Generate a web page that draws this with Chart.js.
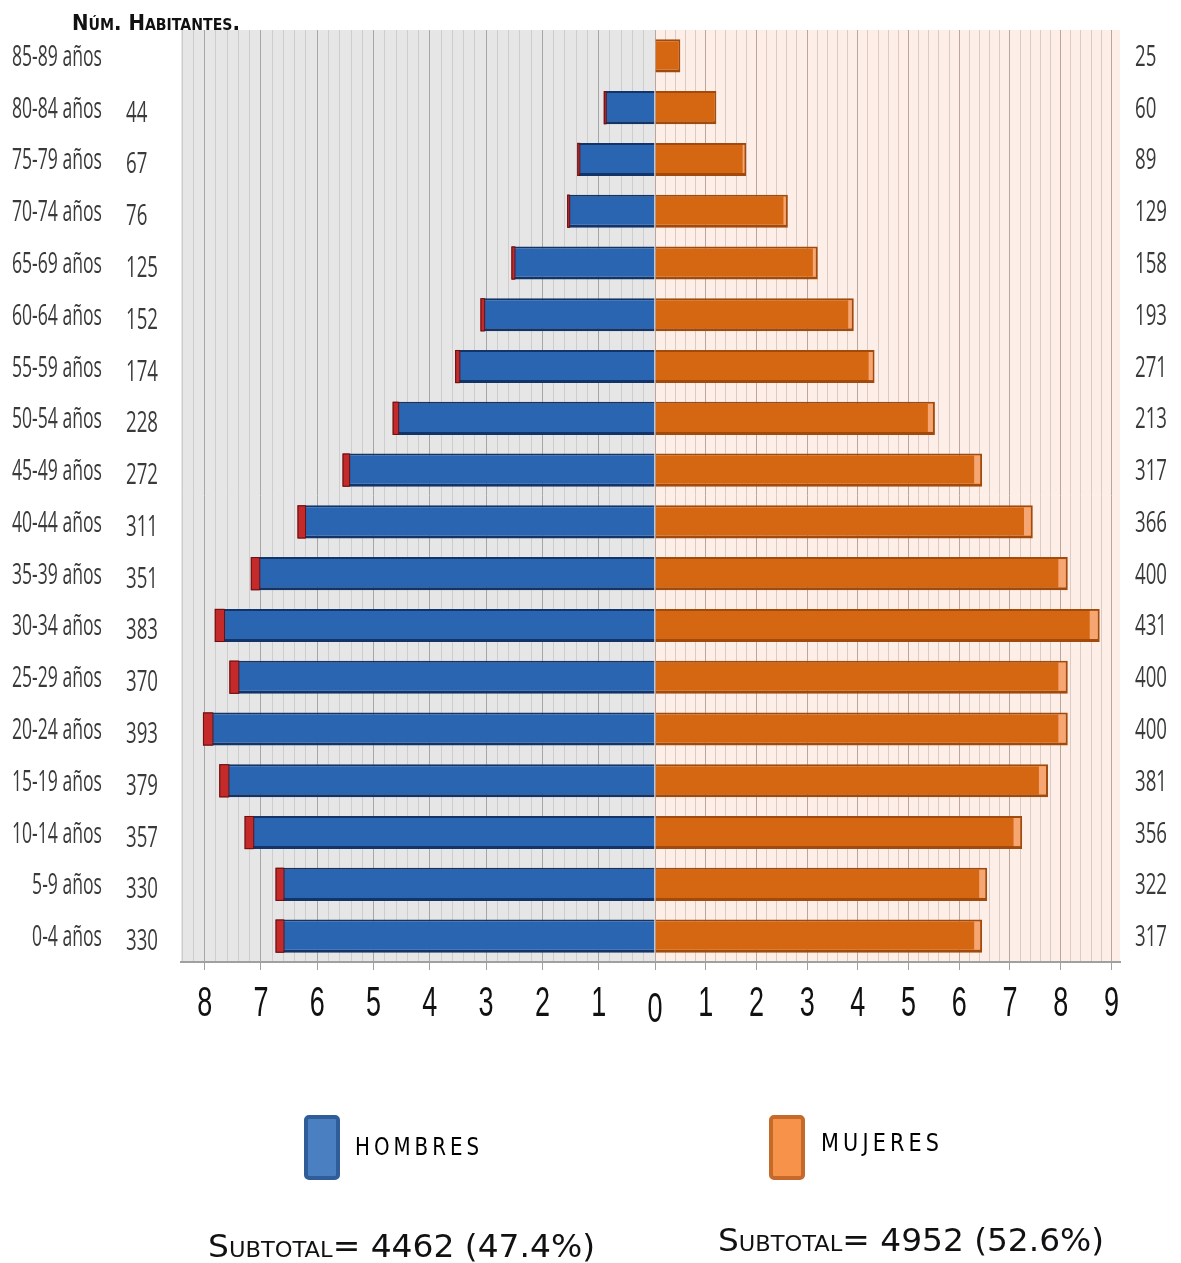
<!DOCTYPE html>
<html>
<head>
<meta charset="utf-8">
<script src="https://cdn.jsdelivr.net/npm/chart.js@4.4.0/dist/chart.umd.min.js"></script>
<style>
  html, body { margin: 0; padding: 0; background: #fff; }
  #wrap { position: relative; width: 1181px; height: 1263px; }
</style>
</head>
<body>
<div id="wrap"><canvas id="pyramid"></canvas></div>
<script>
// age groups, listed top to bottom as in the pyramid
const ageGroups = ['85-89 años', '80-84 años', '75-79 años', '70-74 años', '65-69 años', '60-64 años',
  '55-59 años', '50-54 años', '45-49 años', '40-44 años', '35-39 años', '30-34 años',
  '25-29 años', '20-24 años', '15-19 años', '10-14 años', '5-9 años', '0-4 años'];

// bar lengths (%)
const menPct = [null, 0.91, 1.38, 1.56, 2.55, 3.10, 3.55, 4.66, 5.55, 6.35, 7.18, 7.82, 7.56, 8.03, 7.74, 7.29, 6.74, 6.74];
const womenPct = [0.50, 1.21, 1.80, 2.62, 3.21, 3.92, 4.33, 5.52, 6.45, 7.45, 8.14, 8.77, 8.14, 8.14, 7.75, 7.24, 6.55, 6.45];

// inhabitants printed beside each row
const menCount = [null, 44, 67, 76, 125, 152, 174, 228, 272, 311, 351, 383, 370, 393, 379, 357, 330, 330];
const womenCount = [25, 60, 89, 129, 158, 193, 271, 213, 317, 366, 400, 431, 400, 400, 381, 356, 322, 317];

const seriesNames = ['HOMBRES', 'MUJERES'];
const subtotals = [4462, 4952];
const shares = [47.4, 52.6];
const axisTitle = 'Núm. Habitantes.';

const LEFT_MAX = 8.42;
const RIGHT_MAX = 9.17;

const LABEL_FONT = "29px 'Open Sans', 'Liberation Sans', sans-serif";
const TICK_FONT = "42px 'Liberation Sans', 'Open Sans', sans-serif";

function isWhole(v) { return Math.abs(v - Math.round(v)) < 1e-6; }

function textWidth(ctx, text, font) {
  ctx.save();
  ctx.font = font;
  const w = ctx.measureText(text).width;
  ctx.restore();
  return w;
}

// text drawn with a horizontal squeeze, like the condensed font of the original
function squeezeText(ctx, text, x, y, font, sx, align, color) {
  ctx.save();
  ctx.font = font;
  ctx.fillStyle = color;
  ctx.textAlign = align;
  ctx.textBaseline = 'alphabetic';
  ctx.translate(x, y);
  ctx.scale(sx, 1);
  ctx.fillText(text, 0, 0);
  ctx.restore();
}

// same, but squeezed to a given width (left aligned)
function fitText(ctx, text, x, y, font, width, color) {
  squeezeText(ctx, text, x, y, font, width / textWidth(ctx, text, font), 'left', color);
}

const halfBackgrounds = {
  id: 'halfBackgrounds',
  beforeDraw(chart) {
    const {ctx, chartArea} = chart;
    const zero = chart.scales.xR.getPixelForValue(0);
    ctx.save();
    ctx.fillStyle = '#e6e6e6';
    ctx.fillRect(chartArea.left, chartArea.top, zero - chartArea.left, chartArea.bottom - chartArea.top);
    ctx.fillStyle = '#fdeee8';
    ctx.fillRect(zero, chartArea.top, chartArea.right - zero, chartArea.bottom - chartArea.top);
    ctx.restore();
  }
};

// end caps of the bars (red for men, light orange for women)
const barCaps = {
  id: 'barCaps',
  afterDatasetsDraw(chart) {
    const ctx = chart.ctx;
    ctx.save();
    chart.getDatasetMeta(0).data.forEach((bar, i) => {
      if (menPct[i] == null) return;
      const p = bar.getProps(['x', 'y', 'base', 'height'], true);
      const w = Math.max(2, Math.abs(p.base - p.x) * 0.021);
      ctx.fillStyle = '#c42a2a';
      ctx.fillRect(p.x, p.y - p.height / 2, w, p.height);
      ctx.strokeStyle = '#6a1010';
      ctx.lineWidth = 1;
      ctx.strokeRect(p.x + 0.5, p.y - p.height / 2 + 0.5, w, p.height - 1);
    });
    chart.getDatasetMeta(1).data.forEach((bar, i) => {
      const p = bar.getProps(['x', 'y', 'base', 'height'], true);
      const w = Math.abs(p.base - p.x) * 0.018;
      if (w < 1.5) return;
      ctx.fillStyle = '#f6a672';
      ctx.fillRect(p.x - 2 - w, p.y - p.height / 2 + 2, w, p.height - 5);
    });
    ctx.restore();
  }
};

// condensed tick numbers under both halves of the axis
const axisNumbers = {
  id: 'axisNumbers',
  afterDraw(chart) {
    const ctx = chart.ctx;
    const sx = 15 / textWidth(ctx, '8', TICK_FONT);
    const base = chart.chartArea.bottom;
    ['xL', 'xR'].forEach(id => {
      const scale = chart.scales[id];
      scale.ticks.forEach(t => {
        if (!isWhole(t.value)) return;
        const n = Math.round(t.value);
        if (id === 'xL' && n === 0) return;
        const x = scale.getPixelForValue(t.value);
        squeezeText(ctx, String(n), x, base + (n === 0 ? 60 : 54), TICK_FONT, sx, 'center', '#111');
      });
    });
  }
};

const rowTexts = {
  id: 'rowTexts',
  afterDraw(chart) {
    const ctx = chart.ctx;
    const yScale = chart.scales.y;
    const sxAge = 90 / textWidth(ctx, '85-89 años', LABEL_FONT);
    const sxNum = 32 / textWidth(ctx, '383', LABEL_FONT);
    ageGroups.forEach((g, i) => {
      const y = yScale.getPixelForValue(i);
      squeezeText(ctx, g, 102, y + 10, LABEL_FONT, sxAge, 'right', '#3a3a3a');
      if (menCount[i] != null) {
        squeezeText(ctx, String(menCount[i]), 126, y + 14, LABEL_FONT, sxNum, 'left', '#3a3a3a');
      }
      squeezeText(ctx, String(womenCount[i]), 1135, y + 10, LABEL_FONT, sxNum, 'left', '#3a3a3a');
    });

    // axis title
    fitText(ctx, axisTitle, 72, 30, "small-caps bold 21px 'DejaVu Sans', sans-serif", 168, '#111');

    // legend
    const swatches = [
      {x: 304, fill: '#4a7fc1', stroke: '#2f5d9a', tx: 355, tw: 124, ty: 1155},
      {x: 769, fill: '#f6924a', stroke: '#c56a2a', tx: 821, tw: 118, ty: 1151}
    ];
    swatches.forEach((s, k) => {
      ctx.save();
      ctx.fillStyle = s.fill;
      ctx.strokeStyle = s.stroke;
      ctx.lineWidth = 4;
      ctx.beginPath();
      ctx.roundRect(s.x + 2, 1117, 32, 61, 3);
      ctx.fill();
      ctx.stroke();
      ctx.restore();
      const name = seriesNames[k].split('').join('\u2009');
      fitText(ctx, name, s.tx, s.ty, "25px 'DejaVu Sans', sans-serif", s.tw, '#000');
    });

    // subtotals
    const subFont = "small-caps 32px 'DejaVu Sans', sans-serif";
    fitText(ctx, 'Subtotal= ' + subtotals[0] + ' (' + shares[0].toFixed(1) + '%)', 208, 1257, subFont, 387, '#111');
    fitText(ctx, 'Subtotal= ' + subtotals[1] + ' (' + shares[1].toFixed(1) + '%)', 718, 1251, subFont, 386, '#111');
  }
};

function gridColor(minor, major) {
  return ctx => (ctx.tick && isWhole(ctx.tick.value) ? major : minor);
}

function halfAxis(max, weight, reverse, minor, major) {
  return {
    type: 'linear',
    axis: 'x',
    position: 'bottom',
    stack: 'pyramid',
    stackWeight: weight,
    reverse: reverse,
    min: 0,
    max: max,
    afterFit: s => { s.height = 60; },
    border: {color: '#a0a0a0', width: 2},
    grid: {
      color: gridColor(minor, major),
      tickColor: ctx => (ctx.tick && isWhole(ctx.tick.value) ? '#a0a0a0' : 'rgba(0,0,0,0)'),
      tickLength: 8
    },
    ticks: {
      stepSize: 0.2,
      includeBounds: false,
      autoSkip: false,
      maxRotation: 0,
      callback: () => ''
    }
  };
}

const chart = new Chart(document.getElementById('pyramid'), {
  type: 'bar',
  data: {
    labels: ageGroups,
    datasets: [{
      label: seriesNames[0],
      data: menPct,
      xAxisID: 'xL',
      backgroundColor: '#2a65b2',
      borderColor: '#123468',
      borderWidth: {top: 2, bottom: 3, left: 2, right: 0},
      grouped: false
    }, {
      label: seriesNames[1],
      data: womenPct,
      xAxisID: 'xR',
      backgroundColor: '#d66712',
      borderColor: '#a14a0b',
      borderWidth: {top: 2, bottom: 3, left: 0, right: 2},
      grouped: false
    }]
  },
  options: {
    indexAxis: 'y',
    responsive: true,
    maintainAspectRatio: false,
    animation: false,
    barPercentage: 0.64,
    categoryPercentage: 1,
    layout: {padding: {left: 181, right: 61, top: 30, bottom: 241}},
    scales: {
      y: {type: 'category', display: false},
      xL: halfAxis(LEFT_MAX, 474, true, '#cdcdcd', '#a6a6a6'),
      xR: halfAxis(RIGHT_MAX, 465, false, '#dccbc4', '#bba69e')
    },
    plugins: {
      legend: {display: false},
      tooltip: {enabled: false}
    }
  },
  plugins: [halfBackgrounds, barCaps, axisNumbers, rowTexts]
});
</script>
</body>
</html>
